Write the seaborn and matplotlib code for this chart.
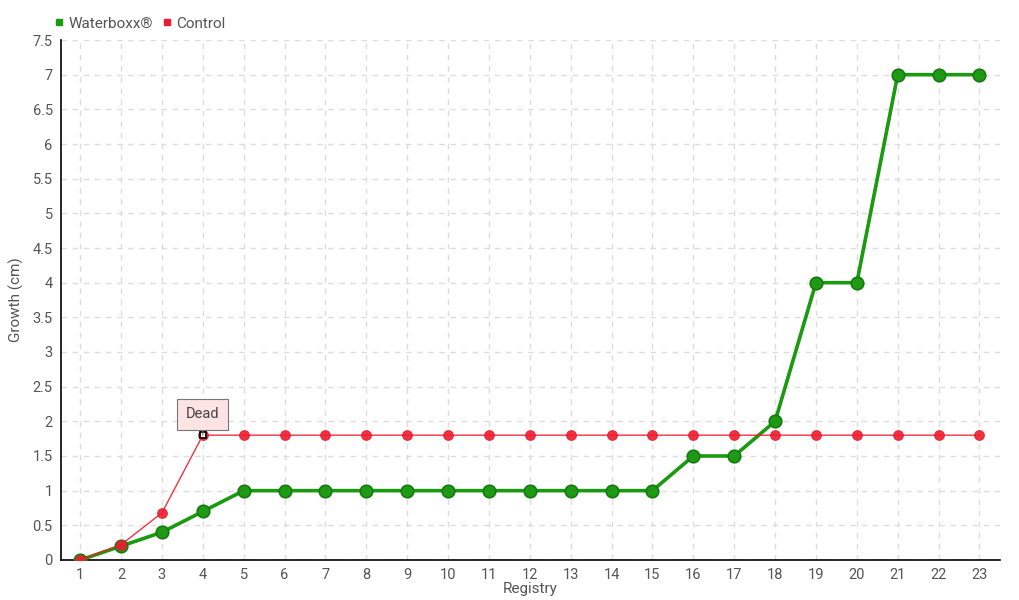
import matplotlib
matplotlib.use("Agg")
import matplotlib.pyplot as plt
import seaborn as sns
import pandas as pd
import numpy as np
from matplotlib.lines import Line2D

registry = list(range(1, 24))
waterboxx = [0, 0.2, 0.4, 0.7, 1, 1, 1, 1, 1, 1, 1, 1, 1, 1, 1, 1.5, 1.5, 2, 4, 4, 7, 7, 7]
control = [0, 0.22, 0.68, 1.8, 1.8, 1.8, 1.8, 1.8, 1.8, 1.8, 1.8, 1.8, 1.8, 1.8, 1.8, 1.8, 1.8, 1.8, 1.8, 1.8, 1.8, 1.8, 1.8]
y_ticks = [0, 0.5, 1, 1.5, 2, 2.5, 3, 3.5, 4, 4.5, 5, 5.5, 6, 6.5, 7, 7.5]
y_labels = ["0", "0.5", "1", "1.5", "2", "2.5", "3", "3.5", "4", "4.5", "5", "5.5", "6", "6.5", "7", "7.5"]

sns.set_style("white")
plt.rcParams['font.family'] = ['Roboto', 'DejaVu Sans']

df = pd.DataFrame({"Registry": registry, "Waterboxx®": waterboxx, "Control": control})

fig = plt.figure(figsize=(10.2, 6), dpi=100)
ax = fig.add_axes([0.0598, 0.0667, 0.9205, 0.8666])

green = "#1a9a0e"
red = "#ee1c2e"

sns.lineplot(data=df, x="Registry", y="Waterboxx®", ax=ax, color=green, linewidth=2.6,
             marker="o", markersize=9, markerfacecolor="#1f9a14", markeredgecolor="#157a10",
             markeredgewidth=1.2, zorder=3)
sns.lineplot(data=df, x="Registry", y="Control", ax=ax, color=red, linewidth=1.0, alpha=0.9,
             marker="o", markersize=7, markerfacecolor=red, markeredgecolor=red, zorder=4)
ax.plot([registry[3]], [control[3]], marker="s", markersize=5, markerfacecolor="white",
        markeredgecolor="black", markeredgewidth=1.3, zorder=6)

ax.annotate("Dead", xy=(registry[3], control[3]), xytext=(0, 15), textcoords="offset points",
            ha="center", va="center", fontsize=10.5, color="#444444",
            bbox=dict(boxstyle="square,pad=0.6", fc="#fde3e3", ec="#777777", lw=0.8),
            arrowprops=dict(arrowstyle="-", color="#777777", lw=0.8, shrinkA=0, shrinkB=4),
            zorder=7)

ax.set_xlim(0.53, 23.5)
ax.set_ylim(0, 7.5)
ax.set_xticks(registry)
ax.set_xticklabels([str(r) for r in registry])
ax.set_yticks(y_ticks)
ax.set_yticklabels(y_labels)
ax.tick_params(axis="both", labelsize=10.5, labelcolor="#555555", length=4, width=1,
               color="black", direction="out", pad=2)
ax.grid(True, linestyle=(0, (4, 4)), color="#dddddd", linewidth=1)
ax.set_axisbelow(True)
for s in ["top", "right"]:
    ax.spines[s].set_visible(False)
for s in ["left", "bottom"]:
    ax.spines[s].set_color("black")
    ax.spines[s].set_linewidth(1.2)

ax.set_xlabel("Registry", fontsize=11, color="#555555", labelpad=0)
ax.set_ylabel("Growth (cm)", fontsize=11, color="#555555", labelpad=6)

handles = [Line2D([], [], linestyle="none", marker="s", markersize=5, color=green),
           Line2D([], [], linestyle="none", marker="s", markersize=5, color=red)]
fig.legend(handles, ["Waterboxx®", "Control"], loc="upper left", bbox_to_anchor=(0.04, 0.995),
           ncol=2, frameon=False, fontsize=11, handlelength=0.6, handletextpad=0.3,
           columnspacing=0.6, labelcolor="#555555")

fig.savefig("out.png", dpi=100)
